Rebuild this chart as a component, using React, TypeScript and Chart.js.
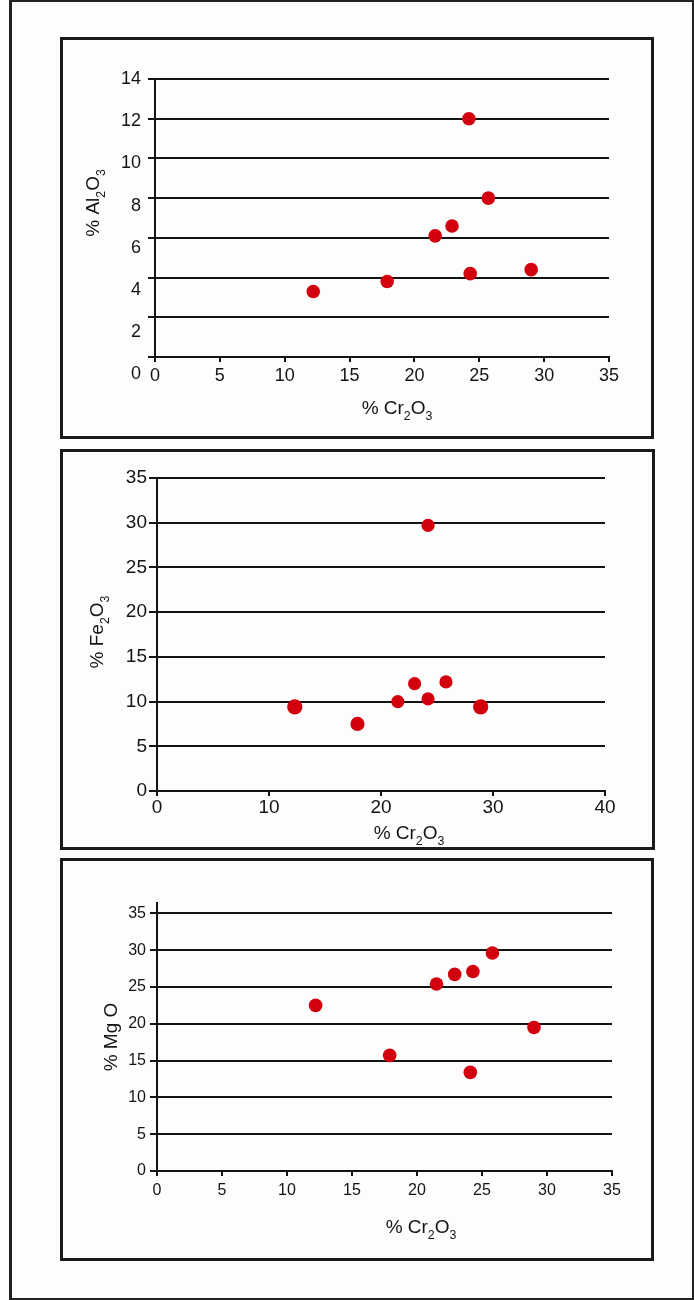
import React, { useEffect, useRef } from 'react';
import { Chart, registerables } from 'chart.js';

Chart.register(...registerables);

// ---- data ----
const alCr2O3 = [12.2, 17.9, 21.6, 22.9, 24.2, 24.3, 25.7, 29.0];
const alAl2O3 = [3.3, 3.8, 6.1, 6.6, 12.0, 4.2, 8.0, 4.4];

const feCr2O3 = [12.3, 17.9, 21.5, 23.0, 24.2, 24.2, 25.8, 28.9];
const feFe2O3 = [9.4, 7.5, 10.0, 12.0, 29.7, 10.3, 12.2, 9.4];

const mgCr2O3 = [12.2, 17.9, 21.5, 22.9, 24.3, 24.1, 25.8, 29.0];
const mgMgO = [22.5, 15.7, 25.4, 26.7, 27.1, 13.4, 29.6, 19.5];

const alXTicks = [0, 5, 10, 15, 20, 25, 30, 35];
const alGridTicks = [0, 2, 4, 6, 8, 10, 12, 14];
const alYLabels = [14, 12, 10, 8, 6, 4, 2, 0];
const feXTicks = [0, 10, 20, 30, 40];
const feYTicks = [0, 5, 10, 15, 20, 25, 30, 35];
const mgXTicks = [0, 5, 10, 15, 20, 25, 30, 35];
const mgYTicks = [0, 5, 10, 15, 20, 25, 30, 35];

type Seg = [string, boolean];
const xTitleSegs: Seg[] = [['% Cr', false], ['2', true], ['O', false], ['3', true]];
const alTitleSegs: Seg[] = [['% Al', false], ['2', true], ['O', false], ['3', true]];
const feTitleSegs: Seg[] = [['% Fe', false], ['2', true], ['O', false], ['3', true]];
const mgTitleSegs: Seg[] = [['% Mg O', false]];

const FONT = "'Liberation Sans', Arial, Helvetica, sans-serif";
const RED = '#d2000f';
const INK = '#141414';
const BG = '#fdfdfd';

type PanelCfg = {
  box: { left: number; top: number; width: number; height: number };
  xs: number[];
  ys: number[];
  radius: number | number[];
  xMin: number; xMax: number; xTicks: number[];
  yMin: number; yMax: number; yTicks: number[];
  labelAxis?: { min: number; max: number; ticks: number[]; width: number; pad: number };
  padding: { left: number; right: number; top: number; bottom: number };
  yWidth: number; xHeight: number;
  yTickLen: number; yPad: number; xPad: number;
  tickSize: number;
  xTitle: Seg[]; yTitle: Seg[]; titleSize: number;
  xTitleOff: [number, number]; yTitleOff: [number, number];
};

function drawRich(ctx: CanvasRenderingContext2D, segs: Seg[], size: number) {
  const sub = size * 0.65;
  const widths: number[] = [];
  let total = 0;
  segs.forEach(([t, s]) => {
    ctx.font = `${s ? sub : size}px ${FONT}`;
    const w = ctx.measureText(t).width;
    widths.push(w);
    total += w;
  });
  let x = -total / 2;
  const base = size * 0.36;
  ctx.fillStyle = INK;
  ctx.textAlign = 'left';
  ctx.textBaseline = 'alphabetic';
  segs.forEach(([t, s], i) => {
    ctx.font = `${s ? sub : size}px ${FONT}`;
    ctx.fillText(t, x, s ? base + size * 0.3 : base);
    x += widths[i];
  });
}

function titlePlugin(cfg: PanelCfg) {
  return {
    id: 'axisTitles',
    afterDraw(chart: any) {
      const ctx: CanvasRenderingContext2D = chart.ctx;
      const ca = chart.chartArea;
      const cx = (ca.left + ca.right) / 2;
      const cy = (ca.top + ca.bottom) / 2;
      ctx.save();
      ctx.translate(cx + cfg.xTitleOff[0], ca.bottom + cfg.xTitleOff[1]);
      drawRich(ctx, cfg.xTitle, cfg.titleSize);
      ctx.restore();
      ctx.save();
      ctx.translate(ca.left + cfg.yTitleOff[0], cy + cfg.yTitleOff[1]);
      ctx.rotate(-Math.PI / 2);
      drawRich(ctx, cfg.yTitle, cfg.titleSize);
      ctx.restore();
    },
  };
}

function buildConfig(cfg: PanelCfg): any {
  const font = { family: FONT, size: cfg.tickSize };
  const scales: any = {
    x: {
      type: 'linear',
      position: 'bottom',
      min: cfg.xMin,
      max: cfg.xMax,
      afterBuildTicks: (s: any) => { s.ticks = cfg.xTicks.map((v) => ({ value: v })); },
      afterFit: (s: any) => { s.height = cfg.xHeight; },
      grid: { drawOnChartArea: false, drawTicks: true, tickLength: 5, color: INK, lineWidth: 2 },
      border: { display: true, color: INK, width: 2 },
      ticks: { autoSkip: false, maxRotation: 0, minRotation: 0, padding: cfg.xPad, color: INK, font, callback: (v: any) => String(v) },
    },
    y: {
      type: 'linear',
      position: 'left',
      weight: 0,
      min: cfg.yMin,
      max: cfg.yMax,
      afterBuildTicks: (s: any) => { s.ticks = cfg.yTicks.map((v) => ({ value: v })); },
      afterFit: (s: any) => { s.width = cfg.yWidth; },
      grid: { drawOnChartArea: true, drawTicks: true, tickLength: cfg.yTickLen, color: INK, lineWidth: 2 },
      border: { display: true, color: INK, width: 2 },
      ticks: { display: !cfg.labelAxis, autoSkip: false, padding: cfg.yPad, color: INK, font, callback: (v: any) => String(v) },
    },
  };
  if (cfg.labelAxis) {
    const la = cfg.labelAxis;
    scales.yl = {
      type: 'linear',
      position: 'left',
      weight: 1,
      min: la.min,
      max: la.max,
      afterBuildTicks: (s: any) => { s.ticks = la.ticks.map((v) => ({ value: v })); },
      afterFit: (s: any) => { s.width = la.width; },
      grid: { display: false, drawTicks: false, drawOnChartArea: false },
      border: { display: false },
      ticks: { autoSkip: false, padding: la.pad, color: INK, font, callback: (v: any) => String(v) },
    };
  }
  return {
    type: 'scatter',
    data: {
      datasets: [
        {
          data: cfg.xs.map((x, i) => ({ x, y: cfg.ys[i] })),
          backgroundColor: RED,
          borderWidth: 0,
          pointRadius: cfg.radius,
          pointHoverRadius: cfg.radius,
          clip: false,
        },
      ],
    },
    options: {
      animation: false,
      responsive: false,
      devicePixelRatio: 1,
      events: [],
      layout: { padding: cfg.padding },
      plugins: { legend: { display: false }, tooltip: { enabled: false }, title: { display: false } },
      scales,
    },
    plugins: [titlePlugin(cfg)],
  };
}

const panel1: PanelCfg = {
  box: { left: 60, top: 37, width: 594, height: 402 },
  xs: alCr2O3, ys: alAl2O3, radius: 6.8,
  xMin: 0, xMax: 35, xTicks: alXTicks,
  yMin: 0, yMax: 14, yTicks: alGridTicks,
  labelAxis: { min: 0.82, max: 14, ticks: alYLabels, width: 40, pad: 5 },
  padding: { left: 43, right: 42, top: 39, bottom: 19 },
  yWidth: 9, xHeight: 60,
  yTickLen: 7, yPad: 2, xPad: 3,
  tickSize: 18,
  xTitle: xTitleSegs, yTitle: alTitleSegs, titleSize: 19,
  xTitleOff: [15, 50], yTitleOff: [-63, -15],
};

const panel2: PanelCfg = {
  box: { left: 60, top: 449, width: 595, height: 401 },
  xs: feCr2O3, ys: feFe2O3, radius: [7.6, 7.1, 6.6, 6.6, 6.6, 6.6, 6.6, 7.6],
  xMin: 0, xMax: 40, xTicks: feXTicks,
  yMin: 0, yMax: 35, yTicks: feYTicks,
  padding: { left: 39, right: 47, top: 26, bottom: 1 },
  yWidth: 55, xHeight: 55,
  yTickLen: 8, yPad: 2, xPad: 0,
  tickSize: 19,
  xTitle: xTitleSegs, yTitle: feTitleSegs, titleSize: 19,
  xTitleOff: [28, 41], yTitleOff: [-60.5, -2.5],
};

const panel3: PanelCfg = {
  box: { left: 60, top: 858, width: 594, height: 403 },
  xs: mgCr2O3, ys: mgMgO, radius: 6.8,
  xMin: 0, xMax: 35, xTicks: mgXTicks,
  yMin: 0, yMax: 36.4, yTicks: mgYTicks,
  padding: { left: 39, right: 39, top: 42, bottom: 32 },
  yWidth: 55, xHeight: 55,
  yTickLen: 7, yPad: 4, xPad: 5,
  tickSize: 16,
  xTitle: xTitleSegs, yTitle: mgTitleSegs, titleSize: 19,
  xTitleOff: [36.5, 55.5], yTitleOff: [-47, 0],
};

function Panel({ cfg }: { cfg: PanelCfg }) {
  const ref = useRef<HTMLCanvasElement | null>(null);
  useEffect(() => {
    if (!ref.current) return;
    const chart = new Chart(ref.current, buildConfig(cfg));
    return () => chart.destroy();
  }, [cfg]);
  const w = cfg.box.width - 6;
  const h = cfg.box.height - 6;
  return (
    <div
      style={{
        position: 'absolute',
        left: cfg.box.left,
        top: cfg.box.top,
        width: cfg.box.width,
        height: cfg.box.height,
        border: '3px solid #1a1a1a',
        boxSizing: 'border-box',
        background: BG,
      }}
    >
      <canvas
        ref={ref}
        width={w}
        height={h}
        style={{ position: 'absolute', left: 0, top: 0, width: w, height: h, display: 'block' }}
      />
    </div>
  );
}

export default function App() {
  return (
    <div
      style={{
        position: 'absolute',
        left: 0,
        top: 0,
        width: 694,
        height: 1300,
        background: BG,
        overflow: 'hidden',
      }}
    >
      <div
        style={{
          position: 'absolute',
          left: 9,
          top: 0,
          width: 685,
          height: 1300,
          borderLeft: '3px solid #222',
          borderTop: '2px solid #222',
          borderBottom: '2px solid #222',
          borderRight: '2px solid #222',
          boxSizing: 'border-box',
        }}
      />
      <Panel cfg={panel1} />
      <Panel cfg={panel2} />
      <Panel cfg={panel3} />
    </div>
  );
}
